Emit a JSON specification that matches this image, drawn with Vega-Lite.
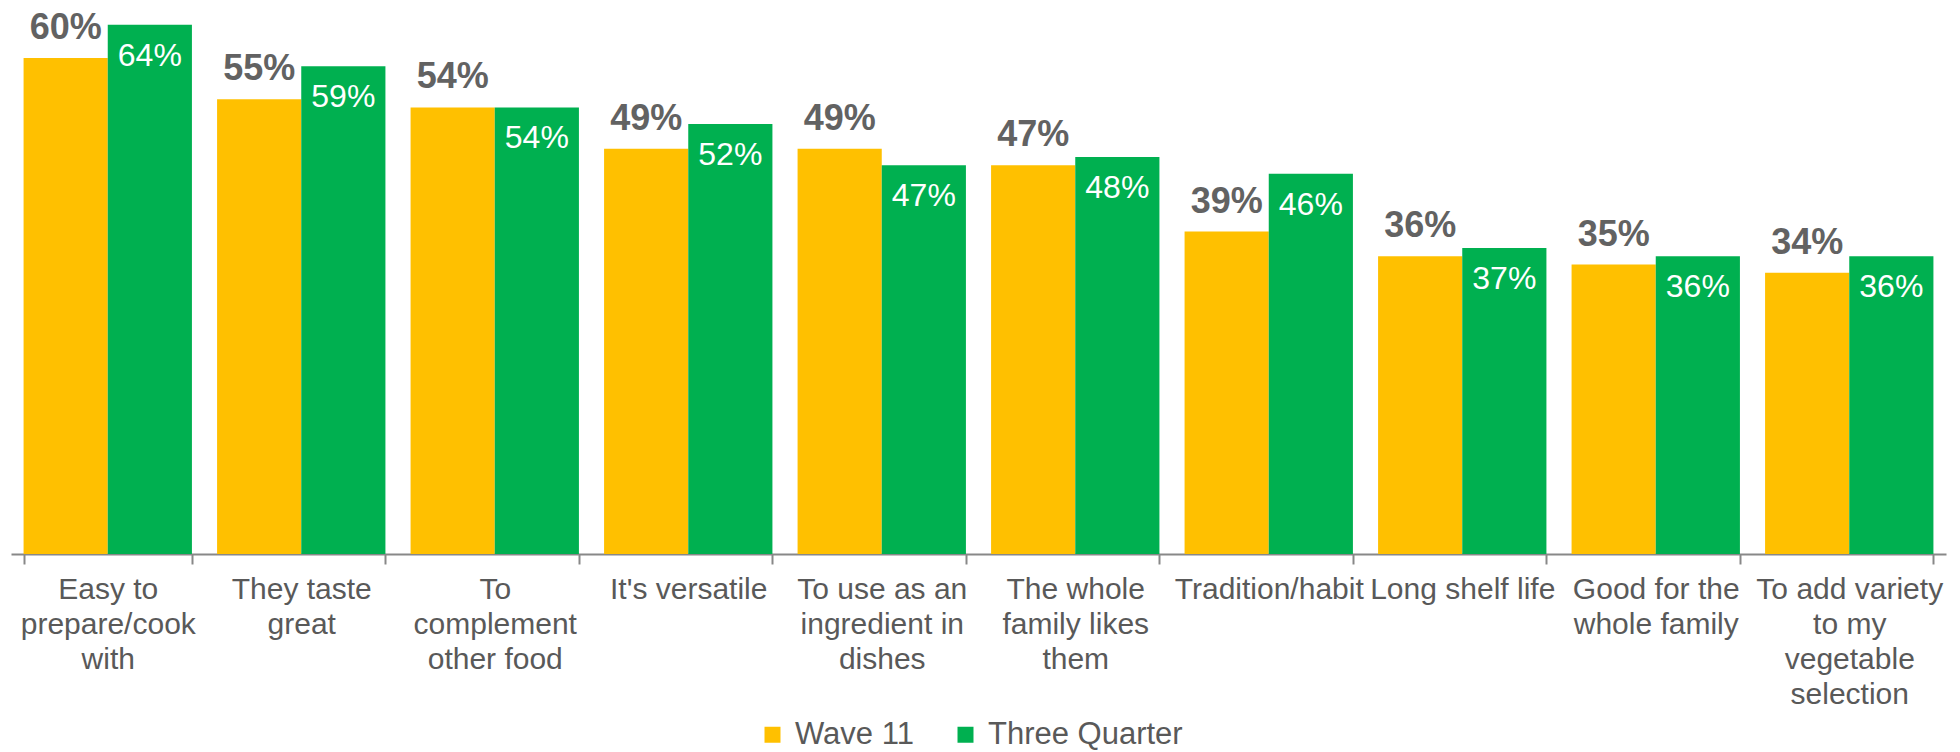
{
  "$schema": "https://vega.github.io/schema/vega-lite/v6.json",
  "width": 1935,
  "height": 554,
  "autosize": {"type": "none"},
  "padding": {"left": 11, "top": 0, "right": 14, "bottom": 198},
  "background": "white",
  "config": {"view": {"stroke": null}, "font": "Liberation Sans"},
  "data": {
    "values": [
      {"reason": "Easy to|prepare/cook|with", "wave": "Wave 11", "pct": 0.60},
      {"reason": "Easy to|prepare/cook|with", "wave": "Three Quarter", "pct": 0.64},
      {"reason": "They taste|great", "wave": "Wave 11", "pct": 0.55},
      {"reason": "They taste|great", "wave": "Three Quarter", "pct": 0.59},
      {"reason": "To|complement|other food", "wave": "Wave 11", "pct": 0.54},
      {"reason": "To|complement|other food", "wave": "Three Quarter", "pct": 0.54},
      {"reason": "It's versatile", "wave": "Wave 11", "pct": 0.49},
      {"reason": "It's versatile", "wave": "Three Quarter", "pct": 0.52},
      {"reason": "To use as an|ingredient in|dishes", "wave": "Wave 11", "pct": 0.49},
      {"reason": "To use as an|ingredient in|dishes", "wave": "Three Quarter", "pct": 0.47},
      {"reason": "The whole|family likes|them", "wave": "Wave 11", "pct": 0.47},
      {"reason": "The whole|family likes|them", "wave": "Three Quarter", "pct": 0.48},
      {"reason": "Tradition/habit", "wave": "Wave 11", "pct": 0.39},
      {"reason": "Tradition/habit", "wave": "Three Quarter", "pct": 0.46},
      {"reason": "Long shelf life", "wave": "Wave 11", "pct": 0.36},
      {"reason": "Long shelf life", "wave": "Three Quarter", "pct": 0.37},
      {"reason": "Good for the|whole family", "wave": "Wave 11", "pct": 0.35},
      {"reason": "Good for the|whole family", "wave": "Three Quarter", "pct": 0.36},
      {"reason": "To add variety|to my|vegetable|selection", "wave": "Wave 11", "pct": 0.34},
      {"reason": "To add variety|to my|vegetable|selection", "wave": "Three Quarter", "pct": 0.36}
    ]
  },
  "encoding": {
    "x": {
      "field": "reason",
      "type": "nominal",
      "sort": null,
      "scale": {"paddingInner": 0.13, "paddingOuter": 0.065},
      "axis": {
        "title": null,
        "labelAngle": 0,
        "labelExpr": "split(datum.label, '|')",
        "labelFontSize": 30,
        "labelColor": "#595959",
        "labelLineHeight": 35,
        "labelPadding": 10,
        "labelLimit": 0,
        "tickBand": "extent",
        "tickSize": 10,
        "tickColor": "#888888",
        "tickWidth": 2,
        "domainColor": "#888888",
        "domainWidth": 2
      }
    },
    "xOffset": {"field": "wave", "type": "nominal", "sort": ["Wave 11", "Three Quarter"]},
    "y": {"field": "pct", "type": "quantitative", "scale": {"domain": [0, 0.67]}, "axis": null}
  },
  "layer": [
    {
      "mark": {"type": "bar"},
      "encoding": {
        "color": {
          "field": "wave",
          "type": "nominal",
          "sort": ["Wave 11", "Three Quarter"],
          "scale": {"domain": ["Wave 11", "Three Quarter"], "range": ["#FFC000", "#00B050"]},
          "legend": {
            "title": null,
            "orient": "none",
            "direction": "horizontal",
            "legendX": 746,
            "legendY": 719,
            "labelFontSize": 31,
            "labelColor": "#595959",
            "labelLimit": 0,
            "symbolType": "square",
            "symbolSize": 256,
            "symbolStrokeWidth": 0,
            "labelOffset": 7,
            "columnPadding": 36
          }
        }
      }
    },
    {
      "transform": [{"filter": "datum.wave === 'Wave 11'"}],
      "mark": {"type": "text", "baseline": "alphabetic", "dy": -19, "fontSize": 36, "fontWeight": "bold", "fill": "#626262"},
      "encoding": {"text": {"field": "pct", "type": "quantitative", "format": ".0%"}}
    },
    {
      "transform": [{"filter": "datum.wave === 'Three Quarter'"}],
      "mark": {"type": "text", "baseline": "top", "dy": 16, "fontSize": 32, "fill": "white"},
      "encoding": {"text": {"field": "pct", "type": "quantitative", "format": ".0%"}}
    }
  ]
}
